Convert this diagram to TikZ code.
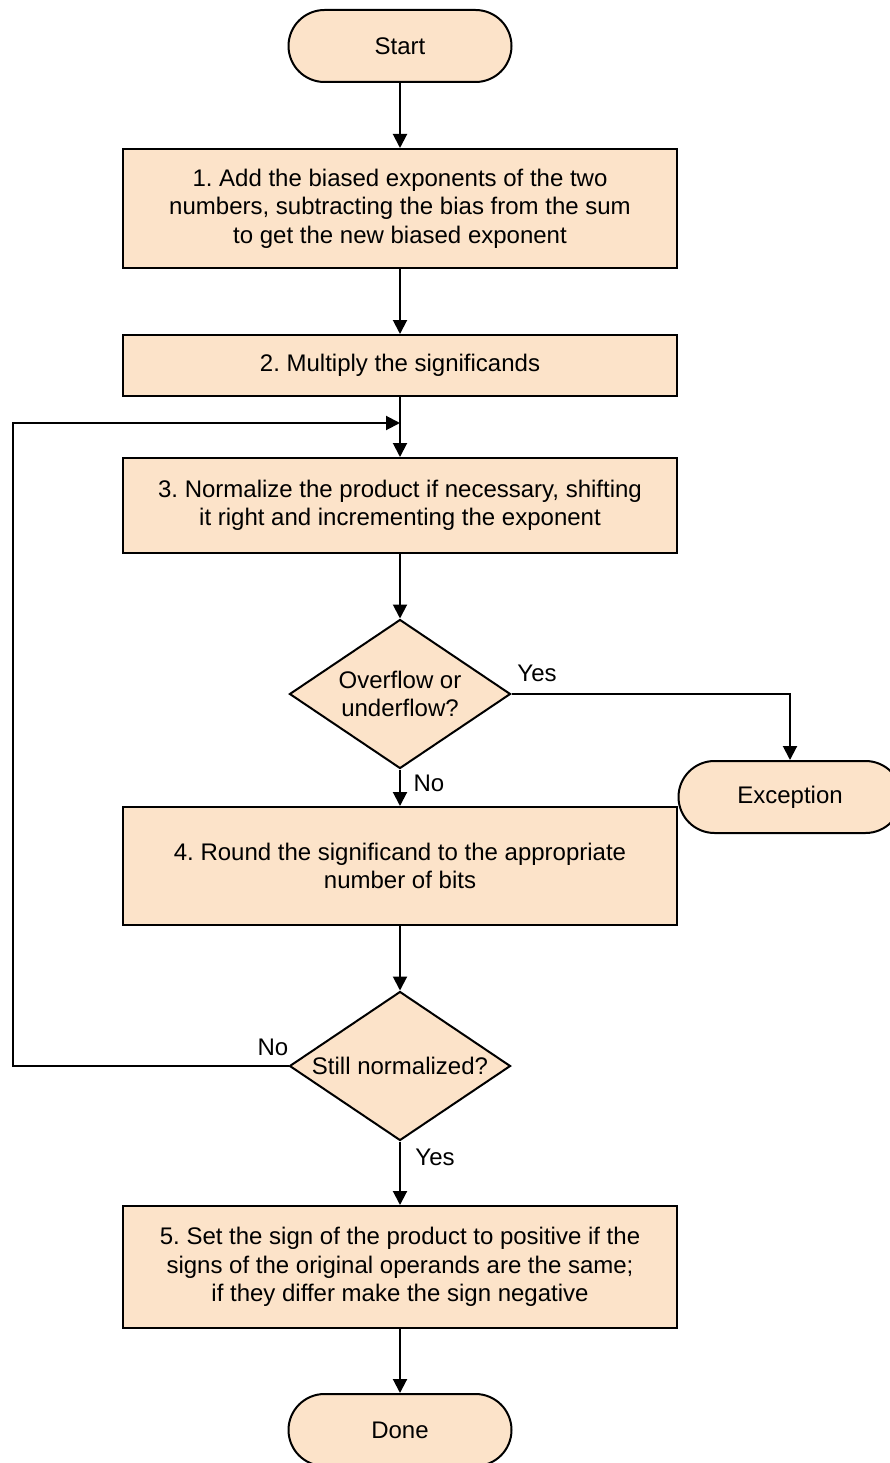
\documentclass[tikz,border=0pt]{standalone}
\usepackage{fontspec}
\setmainfont{Liberation Sans}
\usetikzlibrary{shapes.geometric,shapes.misc,arrows.meta}
\definecolor{peach}{HTML}{FCE3C9}
\frenchspacing
\begin{document}
\begin{tikzpicture}[x=1pt,y=-1pt,
  line width=2pt,
  every node/.style={font=\fontsize{24}{28.5}\selectfont, align=center, inner sep=0pt},
  proc/.style={draw, fill=peach, rectangle, minimum width=554pt},
  term/.style={draw, fill=peach, rounded rectangle, minimum width=223pt, minimum height=72pt},
  decide/.style={draw, fill=peach, diamond, minimum width=221pt, minimum height=149pt},
  flow/.style={-{Triangle[width=14pt,length=14pt]}},
  lbl/.style={font=\fontsize{24}{28}\selectfont}]
\useasboundingbox (0,0) rectangle (890,1463);

% terminals
\node[term] (start) at (400,46) {Start};
\node[term] (exc) at (790,797) {Exception};
\node[term] (done) at (400,1430) {Done};

% process steps
\node[proc, minimum height=119pt] (s1) at (400,208.5)
  {1. Add the biased exponents of the two\\numbers, subtracting the bias from the sum\\to get the new biased exponent};
\node[proc, minimum height=61pt] (s2) at (400,365.5) {2. Multiply the significands};
\node[proc, minimum height=95pt] (s3) at (400,505.5)
  {3. Normalize the product if necessary, shifting\\it right and incrementing the exponent};
\node[proc, minimum height=118pt] (s4) at (400,866)
  {4. Round the significand to the appropriate\\number of bits};
\node[proc, minimum height=122pt] (s5) at (400,1267)
  {5. Set the sign of the product to positive if the\\signs of the original operands are the same;\\if they differ make the sign negative};

% decisions
\node[decide] (d1) at (400,694) {};
\node at (d1.center) {Overflow or\\underflow?};
\node[decide] (d2) at (400,1066) {};
\node at (d2.center) {Still normalized?};

% connectors
\draw[flow] (start) -- (s1);
\draw[flow] (s1) -- (s2);
\draw[flow] (s2) -- (s3);
\draw[flow] (s3) -- (d1);
\draw[flow] (d1) -- (s4);
\draw[flow] (d1.east) -| (exc.north);
\draw[flow] (s4) -- (d2);
\draw[flow] (d2) -- (s5);
\draw[flow] (s5) -- (done);
\coordinate (loopin) at (400,423);
\draw[flow] (d2.west) -- (13,1066) -- (13,423) -- (loopin);

% branch labels
\node[lbl] (yes1) at (537,673) {Yes};
\node[lbl] (no1) at (429,783) {No};
\node[lbl] (no2) at (273,1047) {No};
\node[lbl] (yes2) at (435,1157) {Yes};
\end{tikzpicture}
\end{document}
